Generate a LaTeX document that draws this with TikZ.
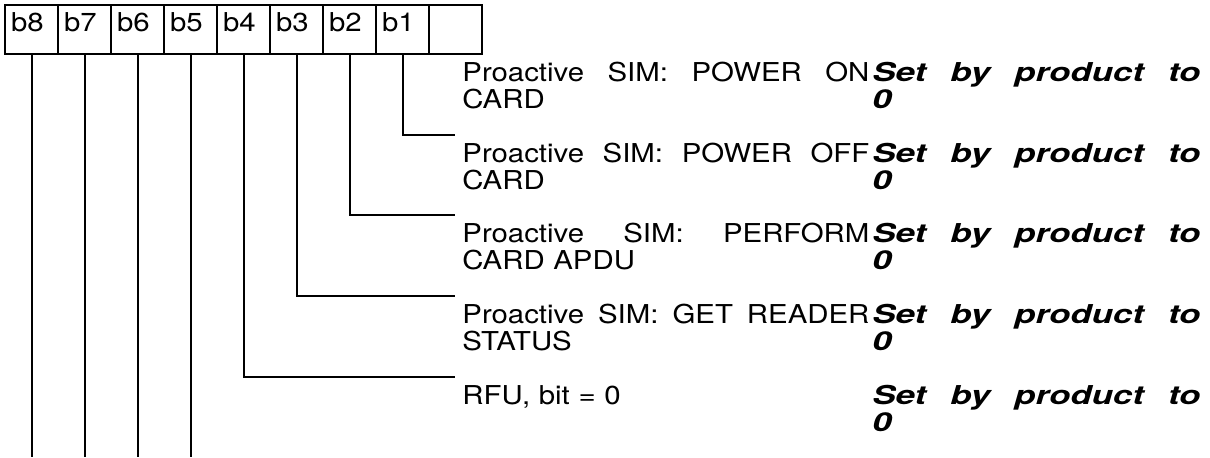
\documentclass[tikz,border=0pt]{standalone}
\usepackage{fontspec}
\setmainfont{TeX Gyre Heros}[FakeStretch=1.13]
\newfontfamily\notefont{TeX Gyre Heros}[FakeStretch=1.34]
\usetikzlibrary{positioning}

\newlength{\desclen}
\setlength{\desclen}{203.5pt}
\newlength{\notelen}
\setlength{\notelen}{164pt}
\newcommand{\jline}[2]{\makebox[#1][s]{\spaceskip=0pt\xspaceskip=0pt\relax #2}}

\tikzset{
  bitcell/.style={draw, line width=1pt, anchor=north west, outer sep=0pt,
    inner xsep=3pt, inner ysep=0pt, text width=20.5pt,
    text height=13pt, text depth=11.5pt, align=left},
  desc/.style={anchor=base west, inner sep=0pt, text width=\desclen, align=left},
  note/.style={anchor=base west, inner sep=0pt, text width=\notelen, align=left,
    font=\fontsize{13}{13.5}\notefont\bfseries\itshape},
  wire/.style={line width=1pt}
}

\begin{document}
\begin{tikzpicture}[x=0.5pt, y=-0.5pt, font=\fontsize{13}{13.5}\selectfont]
    \useasboundingbox (0,0) rectangle (1210,457);

    % bit cells
    \node[bitcell] (c8) at (5,5) {b8};
    \node[bitcell] (c7) at (58,5) {b7};
    \node[bitcell] (c6) at (111,5) {b6};
    \node[bitcell] (c5) at (164,5) {b5};
    \node[bitcell] (c4) at (217,5) {b4};
    \node[bitcell] (c3) at (270,5) {b3};
    \node[bitcell] (c2) at (323,5) {b2};
    \node[bitcell] (c1) at (376,5) {b1};
    \node[bitcell] (c0) at (429,5) {};

    % descriptions
    \node[desc] (d1) at (462,81) {\jline{\desclen}{Proactive SIM: POWER ON}\\CARD};
    \node[desc] (d2) at (462,162) {\jline{\desclen}{Proactive SIM: POWER OFF}\\CARD};
    \node[desc] (d3) at (462,242) {\jline{\desclen}{Proactive SIM: PERFORM}\\CARD APDU};
    \node[desc] (d4) at (462,323) {\jline{\desclen}{Proactive SIM: GET READER}\\STATUS};
    \node[desc] (d5) at (462,404) {RFU, bit = 0};

    \node[note] (n1) at (872,81) {\jline{\notelen}{Set by product to}\\0};
    \node[note] (n2) at (872,162) {\jline{\notelen}{Set by product to}\\0};
    \node[note] (n3) at (872,242) {\jline{\notelen}{Set by product to}\\0};
    \node[note] (n4) at (872,323) {\jline{\notelen}{Set by product to}\\0};
    \node[note] (n5) at (872,404) {\jline{\notelen}{Set by product to}\\0};

    % line ends
    \coordinate (r1) at (455,135);
    \coordinate (r2) at (455,215);
    \coordinate (r3) at (455,296);
    \coordinate (r4) at (455,377);
    \coordinate (bottom) at (0,457);

    \draw[wire] (c1.south) |- (r1);
    \draw[wire] (c2.south) |- (r2);
    \draw[wire] (c3.south) |- (r3);
    \draw[wire] (c4.south) |- (r4);
    \draw[wire] (c5.south) -- (c5.south |- bottom);
    \draw[wire] (c6.south) -- (c6.south |- bottom);
    \draw[wire] (c7.south) -- (c7.south |- bottom);
    \draw[wire] (c8.south) -- (c8.south |- bottom);
  \end{tikzpicture}
\end{document}
